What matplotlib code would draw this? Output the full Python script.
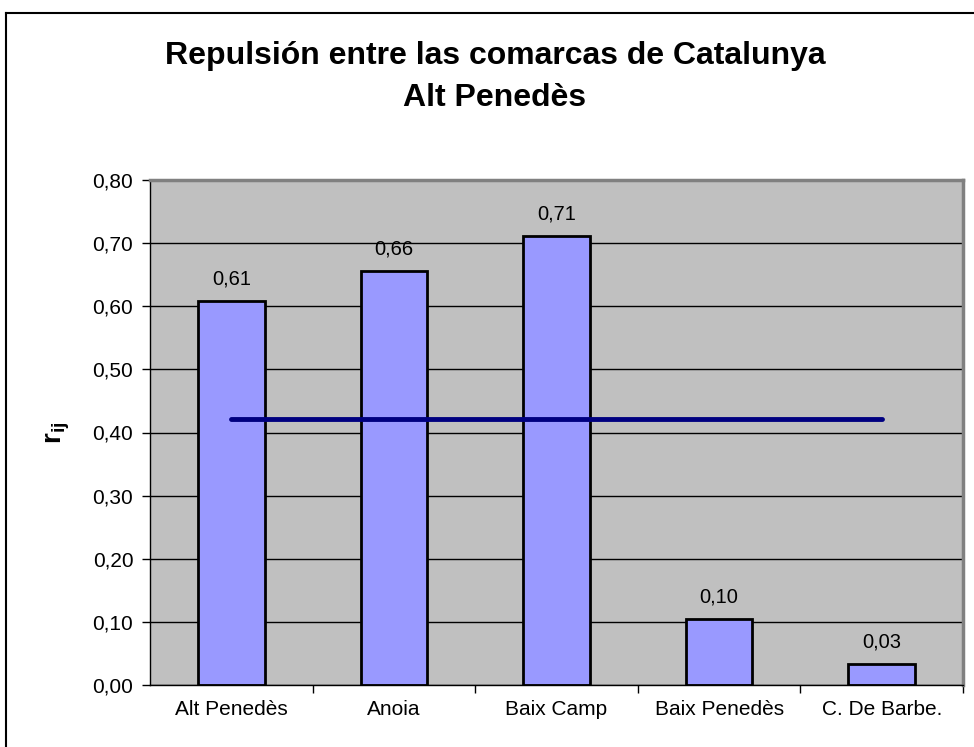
import matplotlib
matplotlib.use('Agg')
import matplotlib.pyplot as plt
from matplotlib.lines import Line2D

plt.rcParams['font.family'] = ['Liberation Sans', 'DejaVu Sans']
plt.rcParams['mathtext.fontset'] = 'custom'
plt.rcParams['mathtext.bf'] = 'Liberation Sans:bold'
plt.rcParams['mathtext.rm'] = 'Liberation Sans'

# Datos
comarcas = ['Alt Penedès', 'Anoia', 'Baix Camp', 'Baix Penedès', 'C. De Barbe.']
valores = [0.608, 0.656, 0.711, 0.104, 0.033]
etiquetas = ['0,61', '0,66', '0,71', '0,10', '0,03']
media = [0.422] * 5
ticks_y = [0.0, 0.1, 0.2, 0.3, 0.4, 0.5, 0.6, 0.7, 0.8]
ticks_y_txt = ['0,00', '0,10', '0,20', '0,30', '0,40', '0,50', '0,60', '0,70', '0,80']

fig = plt.figure(figsize=(9.74, 7.47), dpi=100)
ax = fig.add_axes([150/974, 1 - 685/747, 813/974, 505/747])
ax.set_facecolor('#C0C0C0')

x = list(range(len(comarcas)))
ax.set_axisbelow(True)
ax.yaxis.grid(True, color='black', linewidth=1)
ax.bar(x, valores, width=0.41, color='#9999FF', edgecolor='black', linewidth=2, zorder=2)
ax.plot(x, media, color='#000080', linewidth=3.5, solid_capstyle='round', zorder=3)

for xi, v, t in zip(x, valores, etiquetas):
    ax.annotate(t, (xi, v), xytext=(0, 9), textcoords='offset points',
                ha='center', va='bottom', fontsize=14.5)

ax.set_xlim(-0.5, 4.5)
ax.set_ylim(0, 0.8)
ax.set_yticks(ticks_y)
ax.set_yticklabels(ticks_y_txt, fontsize=15)
ax.set_xticks(x)
ax.set_xticklabels(comarcas, fontsize=15)
ax.set_xticks([0.5, 1.5, 2.5, 3.5, 4.5], minor=True)
ax.tick_params(axis='x', which='major', length=0, pad=11)
ax.tick_params(axis='x', which='minor', length=6, width=1, direction='out')
ax.tick_params(axis='y', length=6, width=1, direction='out', pad=6)

for lado in ['top', 'right']:
    ax.spines[lado].set_color('#808080')
    ax.spines[lado].set_linewidth(2.5)
for lado in ['left', 'bottom']:
    ax.spines[lado].set_color('black')
    ax.spines[lado].set_linewidth(1)

ax.set_ylabel(r'$\mathbf{r}_{\mathbf{ij}}$', fontsize=20, labelpad=15)

fig.text(495/974, 1 - 77/747, 'Repulsión entre las comarcas de Catalunya\nAlt Penedès',
         ha='center', va='center', fontsize=23, fontweight='bold', linespacing=1.5)

# Marco
fig.add_artist(Line2D([6/974, 1], [1 - 13/747, 1 - 13/747], color='black', linewidth=1.5,
                      transform=fig.transFigure))
fig.add_artist(Line2D([6/974, 6/974], [0, 1 - 13/747], color='black', linewidth=1.5,
                      transform=fig.transFigure))

fig.savefig('out.png', dpi=100)
